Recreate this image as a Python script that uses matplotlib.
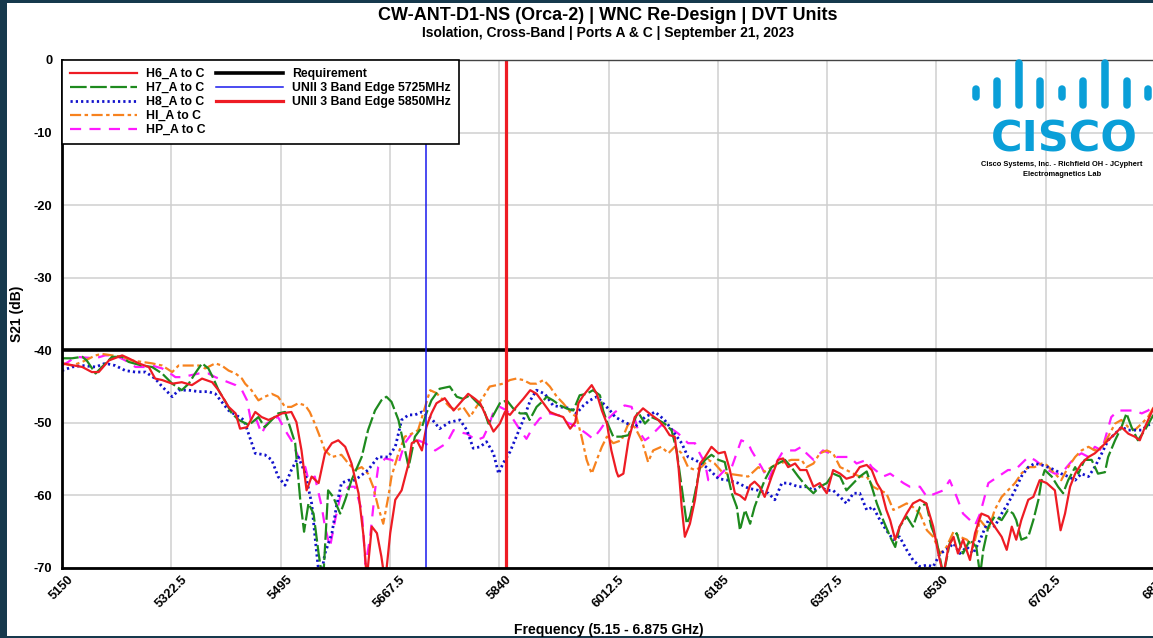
import matplotlib
matplotlib.use("Agg")
import matplotlib.pyplot as plt
from matplotlib.lines import Line2D
from matplotlib.patches import Rectangle

plt.rcParams['font.family'] = ['Liberation Sans', 'DejaVu Sans']
plt.rcParams['font.weight'] = 'bold'
plt.rcParams['axes.labelweight'] = 'bold'
plt.rcParams['axes.unicode_minus'] = False
plt.rcParams['lines.scale_dashes'] = False

# --- data (MHz, dB) ---
h6_freq = [5150, 5182, 5197, 5208, 5224, 5245, 5255, 5271, 5287, 5297, 5308, 5324, 5339, 5355, 5371, 5387,
           5397, 5413, 5424, 5431, 5442, 5455, 5465, 5476, 5486, 5497, 5512, 5520, 5528, 5536, 5544, 5555,
           5565, 5576, 5586, 5597, 5607, 5618, 5626, 5631, 5639, 5647, 5654, 5660, 5668, 5676, 5686, 5697,
           5702, 5710, 5718, 5725, 5733, 5741, 5754, 5768, 5778, 5791, 5802, 5810, 5820, 5831, 5841, 5849,
           5857, 5867, 5878, 5889, 5899, 5910, 5920, 5931, 5941, 5952, 5960, 5965, 5973, 5986, 5994, 6002,
           6010, 6017, 6025, 6028, 6036, 6044, 6054, 6067, 6080, 6091, 6101, 6109, 6117, 6123, 6128, 6133,
           6141, 6149, 6157, 6165, 6175, 6186, 6196, 6204, 6212, 6220, 6228, 6236, 6243, 6251, 6259, 6270,
           6280, 6288, 6296, 6307, 6315, 6325, 6336, 6346, 6357, 6367, 6378, 6388, 6399, 6409, 6420, 6428,
           6436, 6443, 6451, 6457, 6465, 6472, 6483, 6493, 6504, 6514, 6525, 6533, 6541, 6549, 6557, 6564,
           6572, 6583, 6591, 6601, 6612, 6622, 6633, 6641, 6649, 6656, 6664, 6675, 6683, 6693, 6704, 6717,
           6726, 6733, 6741, 6749, 6759, 6770, 6780, 6791, 6801, 6812, 6822, 6833, 6843, 6851, 6859, 6875]
h6_db = [-41.8, -42.3, -43.0, -43.0, -41.4, -40.7, -41.1, -41.8, -42.3, -43.9, -44.1, -44.6, -44.4, -44.8, -43.9, -44.4,
         -45.5, -47.8, -48.7, -50.8, -50.6, -48.5, -49.2, -49.6, -49.2, -48.7, -48.5, -49.9, -53.8, -59.3, -57.4, -58.3,
         -54.2, -52.8, -52.4, -53.3, -55.6, -59.7, -65.7, -71.5, -64.3, -65.2, -68.4, -72.0, -65.2, -60.6, -59.3, -55.6,
         -52.8, -52.4, -53.8, -50.6, -48.7, -47.3, -46.6, -48.3, -47.3, -46.0, -46.7, -47.3, -49.2, -51.2, -50.1, -48.5,
         -48.9, -47.8, -46.7, -45.5, -46.0, -47.3, -48.5, -48.9, -49.2, -50.8, -49.9, -47.3, -46.2, -44.8, -46.0, -48.3,
         -50.1, -53.8, -56.7, -57.4, -57.0, -52.4, -49.2, -48.0, -48.9, -49.6, -50.6, -51.7, -51.9, -56.1, -61.6, -65.7,
         -63.9, -60.6, -55.6, -54.7, -53.3, -54.2, -54.0, -56.5, -59.7, -60.0, -60.6, -58.6, -58.1, -58.8, -60.2, -57.4,
         -55.1, -54.9, -56.1, -55.6, -56.5, -56.5, -58.8, -58.3, -59.7, -56.5, -57.0, -57.7, -57.4, -56.1, -55.8, -56.5,
         -58.3, -59.3, -62.0, -63.4, -66.1, -64.3, -62.5, -61.1, -60.6, -61.1, -64.3, -68.0, -71.0, -67.1, -65.7, -68.0,
         -66.1, -68.9, -65.2, -62.5, -62.9, -64.3, -65.7, -67.5, -64.3, -66.1, -63.4, -60.6, -60.2, -57.9, -58.3, -59.3,
         -64.8, -62.5, -58.8, -57.0, -55.6, -54.7, -54.2, -53.3, -52.4, -51.5, -50.6, -51.5, -51.9, -52.4, -50.6, -47.5]

h7_freq = [5150, 5166, 5182, 5189, 5203, 5213, 5229, 5245, 5255, 5276, 5292, 5308, 5324, 5339, 5350, 5360,
           5371, 5381, 5389, 5397, 5408, 5418, 5429, 5445, 5460, 5470, 5481, 5491, 5502, 5510, 5518, 5526,
           5532, 5539, 5547, 5555, 5562, 5570, 5578, 5589, 5597, 5607, 5623, 5633, 5644, 5654, 5662, 5670,
           5681, 5689, 5697, 5707, 5718, 5725, 5733, 5746, 5762, 5773, 5783, 5794, 5804, 5815, 5823, 5831,
           5841, 5852, 5862, 5873, 5883, 5888, 5899, 5910, 5915, 5925, 5936, 5946, 5957, 5967, 5978, 5988,
           5999, 6004, 6012, 6020, 6033, 6044, 6049, 6059, 6070, 6080, 6091, 6101, 6112, 6120, 6128, 6136,
           6141, 6149, 6157, 6165, 6175, 6186, 6196, 6207, 6215, 6220, 6228, 6236, 6243, 6251, 6259, 6270,
           6280, 6291, 6301, 6312, 6325, 6336, 6346, 6357, 6367, 6378, 6388, 6399, 6409, 6420, 6428, 6436,
           6446, 6457, 6465, 6472, 6483, 6493, 6504, 6514, 6522, 6530, 6541, 6551, 6562, 6572, 6583, 6593,
           6599, 6604, 6612, 6622, 6633, 6643, 6651, 6656, 6664, 6675, 6683, 6691, 6696, 6701, 6712, 6722,
           6730, 6738, 6749, 6754, 6764, 6775, 6785, 6796, 6801, 6812, 6822, 6830, 6838, 6848, 6859, 6875]
h7_db = [-41.1, -41.1, -40.9, -41.4, -43.2, -42.3, -40.9, -40.9, -41.6, -42.1, -42.3, -43.2, -44.6, -45.5, -44.6, -43.2,
         -41.8, -42.5, -43.9, -45.5, -47.1, -48.7, -49.6, -50.3, -49.2, -50.6, -49.6, -48.7, -48.5, -50.6, -52.8, -60.6,
         -65.0, -61.1, -62.5, -68.0, -72.0, -59.3, -60.2, -62.5, -60.6, -57.9, -54.7, -51.0, -48.3, -46.9, -46.4, -47.1,
         -49.6, -52.8, -56.1, -51.9, -50.6, -48.7, -46.9, -45.3, -45.0, -46.4, -46.7, -46.2, -47.1, -48.0, -50.1, -48.9,
         -47.3, -46.9, -48.0, -48.7, -48.7, -49.6, -47.8, -46.9, -46.4, -46.9, -47.6, -48.0, -48.3, -46.2, -46.0, -45.5,
         -46.2, -48.3, -50.3, -51.9, -51.9, -51.7, -50.6, -48.5, -50.1, -49.2, -49.6, -50.1, -51.0, -53.8, -58.8, -63.9,
         -62.9, -59.7, -56.1, -55.1, -54.4, -55.1, -55.4, -59.7, -61.6, -64.8, -62.0, -63.9, -61.6, -59.7, -57.9, -56.1,
         -55.6, -55.1, -56.1, -57.4, -58.8, -59.7, -58.8, -58.3, -57.0, -57.4, -59.3, -58.3, -57.4, -56.7, -58.8, -61.1,
         -63.4, -65.7, -67.1, -64.3, -62.9, -64.3, -61.6, -61.1, -64.3, -66.1, -71.0, -66.6, -65.2, -68.0, -66.1, -67.1,
         -71.0, -67.5, -64.3, -62.9, -63.4, -62.0, -62.5, -63.4, -66.1, -65.7, -63.4, -60.6, -57.9, -56.5, -57.4, -58.8,
         -59.7, -57.9, -56.1, -57.0, -55.1, -55.1, -57.0, -56.8, -54.7, -52.4, -50.6, -48.7, -50.6, -52.4, -51.0, -48.5]

h8_freq = [5150, 5166, 5182, 5203, 5218, 5234, 5250, 5266, 5282, 5297, 5308, 5324, 5334, 5350, 5366, 5381,
           5392, 5402, 5413, 5424, 5437, 5446, 5455, 5470, 5481, 5491, 5502, 5512, 5523, 5534, 5544, 5552,
           5557, 5565, 5576, 5583, 5591, 5602, 5612, 5620, 5633, 5649, 5665, 5676, 5686, 5697, 5707, 5718,
           5733, 5746, 5762, 5778, 5789, 5799, 5810, 5820, 5831, 5839, 5846, 5857, 5867, 5878, 5889, 5899,
           5912, 5925, 5936, 5952, 5962, 5973, 5983, 5994, 6004, 6015, 6023, 6038, 6054, 6070, 6086, 6101,
           6117, 6128, 6138, 6149, 6159, 6170, 6186, 6201, 6217, 6233, 6249, 6265, 6275, 6286, 6296, 6312,
           6325, 6336, 6346, 6357, 6367, 6378, 6388, 6399, 6409, 6420, 6430, 6441, 6451, 6462, 6472, 6483,
           6493, 6504, 6515, 6525, 6536, 6546, 6557, 6567, 6578, 6588, 6599, 6612, 6622, 6633, 6643, 6654,
           6664, 6675, 6685, 6696, 6706, 6717, 6727, 6738, 6749, 6759, 6770, 6780, 6791, 6801, 6812, 6822,
           6833, 6843, 6854, 6864, 6875]
h8_db = [-42.8, -42.3, -42.1, -42.3, -41.8, -42.1, -42.8, -43.0, -43.0, -43.9, -45.0, -46.4, -45.5, -45.5, -45.7, -45.7,
         -46.0, -47.1, -48.3, -48.9, -49.6, -51.9, -54.2, -54.4, -55.1, -57.4, -58.6, -56.5, -54.7, -57.0, -61.1, -68.0,
         -72.0, -68.0, -65.2, -61.6, -58.3, -57.9, -57.9, -57.4, -56.5, -54.7, -54.7, -53.3, -49.6, -48.9, -48.9, -48.5,
         -49.4, -50.8, -49.9, -49.6, -51.0, -53.5, -53.3, -52.6, -54.2, -57.0, -55.6, -54.0, -51.9, -49.6, -46.9, -45.5,
         -46.0, -47.6, -47.8, -48.0, -48.7, -47.6, -46.9, -46.4, -47.3, -48.3, -49.2, -49.9, -50.6, -49.2, -48.5, -49.6,
         -51.5, -52.8, -54.7, -55.1, -55.6, -56.3, -57.7, -57.9, -58.3, -59.0, -59.3, -59.7, -60.6, -58.3, -58.3, -58.8,
         -58.8, -59.3, -58.8, -59.3, -59.3, -60.2, -61.1, -59.7, -59.7, -62.0, -61.6, -63.4, -64.8, -66.1, -65.7, -67.5,
         -68.9, -69.8, -69.6, -69.8, -68.0, -67.5, -66.6, -68.0, -67.1, -68.0, -66.1, -63.4, -64.3, -62.5, -61.1, -59.3,
         -57.4, -56.1, -55.6, -55.8, -56.1, -56.5, -57.0, -57.4, -57.9, -57.0, -57.4, -56.1, -54.2, -52.4, -51.5, -50.6,
         -51.0, -51.0, -51.0, -50.3, -50.1]

hi_freq = [5150, 5166, 5182, 5203, 5213, 5229, 5245, 5260, 5276, 5292, 5308, 5324, 5334, 5350, 5366, 5376,
           5392, 5402, 5413, 5424, 5434, 5439, 5449, 5460, 5470, 5481, 5491, 5502, 5512, 5523, 5534, 5541,
           5549, 5557, 5565, 5576, 5591, 5602, 5612, 5623, 5633, 5641, 5649, 5657, 5665, 5670, 5681, 5691,
           5702, 5712, 5723, 5731, 5741, 5752, 5762, 5773, 5783, 5794, 5804, 5815, 5825, 5836, 5846, 5857,
           5867, 5878, 5889, 5899, 5910, 5920, 5931, 5941, 5952, 5962, 5970, 5978, 5986, 5994, 6002, 6010,
           6020, 6033, 6044, 6054, 6065, 6075, 6083, 6096, 6107, 6117, 6128, 6138, 6149, 6159, 6170, 6180,
           6191, 6201, 6217, 6233, 6249, 6259, 6270, 6280, 6291, 6301, 6317, 6325, 6336, 6346, 6357, 6367,
           6378, 6388, 6399, 6409, 6420, 6430, 6441, 6451, 6462, 6472, 6483, 6493, 6504, 6515, 6525, 6536,
           6546, 6557, 6567, 6578, 6588, 6599, 6612, 6622, 6633, 6643, 6654, 6664, 6675, 6685, 6696, 6704,
           6717, 6727, 6738, 6749, 6759, 6770, 6780, 6791, 6801, 6812, 6822, 6833, 6843, 6854, 6864, 6875]
hi_db = [-41.8, -42.1, -41.6, -40.7, -40.5, -40.7, -40.9, -41.4, -41.6, -41.8, -42.1, -43.0, -42.1, -42.1, -42.1, -42.5,
         -41.8, -42.1, -42.8, -43.2, -43.9, -44.6, -45.5, -46.9, -46.4, -46.0, -46.4, -47.8, -47.8, -47.3, -47.6, -48.5,
         -50.1, -51.9, -53.8, -54.7, -54.4, -55.6, -56.5, -56.1, -57.0, -58.8, -61.6, -63.9, -60.2, -57.4, -54.2, -51.9,
         -51.5, -51.0, -47.8, -45.5, -45.9, -46.9, -47.8, -48.3, -47.8, -49.2, -47.8, -46.4, -45.0, -44.8, -44.6, -44.1,
         -43.9, -44.1, -44.6, -44.6, -44.1, -45.0, -46.4, -47.3, -48.5, -49.2, -51.9, -55.1, -57.0, -55.1, -53.3, -51.9,
         -52.8, -52.4, -50.1, -50.6, -52.4, -55.4, -53.8, -53.3, -54.2, -53.3, -54.2, -56.1, -56.5, -56.1, -55.1, -55.6,
         -56.7, -57.0, -57.2, -57.4, -56.1, -56.7, -56.1, -55.6, -55.4, -55.1, -55.1, -56.1, -55.6, -54.2, -53.8, -54.2,
         -56.1, -56.5, -57.0, -57.4, -57.4, -58.8, -59.3, -59.7, -62.0, -61.6, -61.1, -61.6, -62.5, -64.8, -65.7, -68.0,
         -67.1, -65.0, -65.7, -66.1, -67.1, -63.4, -64.8, -62.0, -60.2, -59.3, -58.3, -57.0, -56.1, -56.1, -55.6, -55.8,
         -57.0, -57.9, -56.1, -54.7, -53.8, -53.3, -53.8, -53.3, -51.9, -50.1, -49.6, -50.6, -51.0, -50.1, -49.2, -47.5]

hp_freq = [5150, 5160, 5171, 5203, 5218, 5234, 5250, 5266, 5282, 5292, 5308, 5318, 5329, 5339, 5366, 5381,
           5392, 5424, 5434, 5442, 5449, 5457, 5465, 5473, 5481, 5491, 5502, 5512, 5523, 5534, 5539, 5549,
           5560, 5565, 5573, 5581, 5589, 5602, 5612, 5623, 5629, 5636, 5644, 5649, 5660, 5670, 5681, 5691,
           5702, 5712, 5723, 5731, 5739, 5757, 5768, 5778, 5789, 5804, 5815, 5823, 5831, 5841, 5852, 5862,
           5873, 5883, 5894, 5904, 5920, 5936, 5946, 5962, 5978, 5988, 5999, 6010, 6023, 6038, 6049, 6059,
           6070, 6078, 6096, 6107, 6115, 6123, 6138, 6149, 6154, 6165, 6170, 6186, 6196, 6207, 6222, 6233,
           6238, 6254, 6265, 6275, 6286, 6293, 6307, 6317, 6325, 6336, 6351, 6362, 6372, 6393, 6404, 6420,
           6428, 6446, 6457, 6478, 6488, 6504, 6515, 6541, 6551, 6562, 6572, 6583, 6591, 6599, 6612, 6643,
           6654, 6675, 6685, 6706, 6717, 6727, 6749, 6759, 6770, 6780, 6791, 6806, 6817, 6843, 6854, 6864,
           6875]
hp_db = [-42.1, -41.6, -40.9, -41.1, -40.7, -40.7, -41.4, -42.3, -42.3, -42.1, -42.5, -43.0, -43.7, -43.7, -43.2, -43.2,
         -43.7, -44.8, -45.5, -46.9, -50.1, -49.6, -51.5, -50.1, -49.6, -49.2, -51.0, -52.4, -54.7, -56.1, -57.9, -57.4,
         -61.6, -64.3, -67.1, -63.4, -60.2, -58.8, -58.8, -62.0, -69.5, -66.0, -59.3, -56.1, -54.9, -55.1, -55.6, -52.8,
         -51.5, -52.4, -52.8, -53.3, -53.8, -52.8, -51.0, -51.3, -51.5, -52.4, -52.0, -50.5, -48.5, -47.8, -48.3, -49.5,
         -51.0, -52.2, -50.5, -49.4, -48.7, -49.0, -49.9, -50.5, -51.5, -52.2, -51.0, -49.6, -48.5, -47.6, -47.8, -51.0,
         -52.4, -51.9, -50.3, -50.6, -51.0, -51.5, -52.8, -52.8, -53.8, -55.6, -57.9, -57.4, -56.5, -56.1, -52.4, -52.8,
         -53.8, -56.1, -57.9, -55.8, -54.2, -53.8, -53.8, -53.3, -54.2, -55.1, -53.8, -54.2, -54.7, -54.7, -55.6, -55.1,
         -56.1, -57.4, -57.0, -58.3, -58.8, -58.8, -60.2, -59.3, -57.9, -60.2, -62.5, -63.4, -64.1, -62.5, -58.3, -56.5,
         -56.5, -54.7, -55.1, -56.5, -57.0, -57.0, -54.7, -54.2, -54.7, -53.3, -53.8, -49.2, -48.3, -48.3, -48.7, -48.3,
         -47.5]

requirement_db = -40
band_edge_low = 5725
band_edge_high = 5850

xticks = [5150, 5322.5, 5495, 5667.5, 5840, 6012.5, 6185, 6357.5, 6530, 6702.5, 6875]
xtick_labels = ['5150', '5322.5', '5495', '5667.5', '5840', '6012.5', '6185', '6357.5', '6530', '6702.5', '6875']
yticks = [-70, -60, -50, -40, -30, -20, -10, 0]

W, H = 1153, 638
fig = plt.figure(figsize=(W / 100, H / 100), dpi=100)
fig.patch.set_facecolor('#16394d')
fig.add_artist(Rectangle((7 / W, 2 / H), 1, 1 - 5 / H, transform=fig.transFigure,
                         facecolor='white', edgecolor='none', zorder=-10))

ax = fig.add_axes([62 / W, 1 - 568 / H, (1155 - 62) / W, (568 - 60) / H])

ax.set_xlim(5150, 6875)
ax.set_ylim(-70, 0)
ax.set_xticks(xticks)
ax.set_xticklabels(xtick_labels, rotation=45, ha='center', va='top')
ax.set_yticks(yticks)
ax.tick_params(length=0, labelsize=9.3)
ax.tick_params(axis='y', pad=7)
ax.tick_params(axis='x', pad=4)
ax.grid(True, color='#cfcfcf', lw=1.1)
ax.set_axisbelow(True)
for s in ['left', 'bottom']:
    ax.spines[s].set_linewidth(2)
ax.spines['top'].set_linewidth(1)
ax.spines['top'].set_color('#444444')
ax.spines['right'].set_visible(False)

# series
l_hp, = ax.plot(hp_freq, hp_db, color='#ff1aff', lw=1.6, dashes=(8, 6), label='HP_A to C')
l_hi, = ax.plot(hi_freq, hi_db, color='#f7821e', lw=1.6, dashes=(8, 2.5, 2.5, 2.5), label='HI_A to C')
l_h8, = ax.plot(h8_freq, h8_db, color='#1212cc', lw=2.0, dashes=(1.6, 2.2), label='H8_A to C')
l_h7, = ax.plot(h7_freq, h7_db, color='#1e8a1e', lw=1.6, dashes=(12, 2.5), label='H7_A to C')
l_h6, = ax.plot(h6_freq, h6_db, color='#ee1c24', lw=1.6, label='H6_A to C')

l_req = ax.axhline(requirement_db, color='black', lw=2.6, label='Requirement')
l_lo = ax.axvline(band_edge_low, color='#1a1aee', lw=1.1, label='UNII 3 Band Edge 5725MHz')
l_hi_edge = ax.axvline(band_edge_high, color='#ee1c24', lw=2.3, label='UNII 3 Band Edge 5850MHz')

blank = Line2D([], [], color='none')
handles = [l_h6, l_h7, l_h8, l_hi, l_hp, l_req, l_lo, l_hi_edge, blank, blank]
labels = [h.get_label() for h in handles[:8]] + [' ', ' ']
leg = ax.legend(handles, labels, ncol=2, loc='upper left', bbox_to_anchor=(0, 1), borderaxespad=0,
                fontsize=8.8, handlelength=5.5, handletextpad=0.75, columnspacing=0.8,
                labelspacing=0.17, borderpad=0.64, fancybox=False, framealpha=1)
leg.get_frame().set_edgecolor('black')
leg.get_frame().set_linewidth(1.2)

ax.set_ylabel('S21 (dB)', fontsize=10)
ax.yaxis.set_label_coords(-0.035, 0.5)
ax.set_xlabel('Frequency (5.15 - 6.875 GHz)', fontsize=10)
ax.xaxis.set_label_coords(0.5, -0.108)

fig.text(608 / W, 1 - 15 / H, 'CW-ANT-D1-NS (Orca-2) | WNC Re-Design | DVT Units',
         ha='center', va='center', fontsize=13)
fig.text(608 / W, 1 - 33 / H, 'Isolation, Cross-Band | Ports A & C | September 21, 2023',
         ha='center', va='center', fontsize=10)

# Cisco logo
logo_blue = '#0a9fd8'
bar_x = [976, 997, 1019, 1040, 1062, 1083, 1105, 1127, 1148]
bar_span = [(85, 100), (77, 108), (59, 108), (77, 108), (85, 100), (77, 108), (59, 108), (77, 108), (85, 100)]
for bx, (top, bot) in zip(bar_x, bar_span):
    fig.add_artist(Line2D([bx / W, bx / W], [1 - (top + 3.5) / H, 1 - (bot - 3.5) / H],
                          transform=fig.transFigure, color=logo_blue, lw=5.4, solid_capstyle='round'))
fig.text(1064 / W, 1 - 152 / H, 'CISCO', ha='center', va='baseline', fontsize=31,
         color=logo_blue, family='DejaVu Sans', fontweight='bold')
fig.text(1062 / W, 1 - 164 / H, 'Cisco Systems, Inc. - Richfield OH - JCyphert', ha='center',
         va='center', fontsize=5.4)
fig.text(1062 / W, 1 - 174 / H, 'Electromagnetics Lab', ha='center', va='center', fontsize=5.4)

fig.savefig('out.png', dpi=100, facecolor=fig.get_facecolor())
